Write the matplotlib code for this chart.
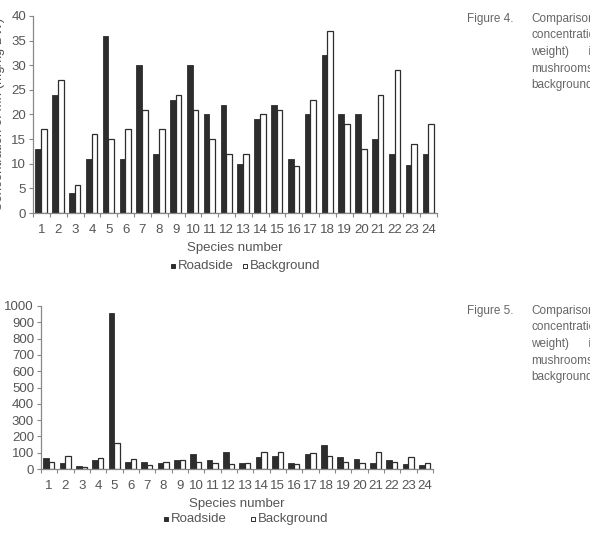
import matplotlib
matplotlib.use("Agg")
import matplotlib.pyplot as plt
import numpy as np
from matplotlib.lines import Line2D

species = list(range(1, 25))
species_labels = [str(s) for s in species]

# Figure 4 (Mn, mg/kg DW)
mn_roadside = [13, 24, 4, 11, 36, 11, 30, 12, 23, 30, 20, 22,
               10, 19, 22, 11, 20, 32, 20, 20, 15, 12, 9.7, 12]
mn_background = [17, 27, 5.6, 16, 15, 17, 21, 17, 24, 21, 15, 12,
                 12, 20, 21, 9.5, 23, 37, 18, 13, 24, 29, 14, 18]

# Figure 5
f5_roadside = [65, 39, 20, 53, 955, 43, 43, 39, 53, 90, 53, 102,
               35, 75, 81, 35, 94, 149, 75, 59, 39, 53, 29, 27]
f5_background = [41, 80, 12, 65, 157, 61, 22, 43, 53, 41, 35, 31,
                 39, 106, 106, 31, 98, 80, 43, 35, 106, 41, 71, 39]

legend_labels = ["Roadside", "Background"]

DARK = "#2d2d2d"
GRAY = "#555555"
SPINE = "#888888"
W, H = 590, 534

fig = plt.figure(figsize=(W / 100, H / 100), dpi=100)
plt.rcParams['font.family'] = ['Liberation Sans', 'DejaVu Sans']


def px_axes(x0, x1, y0, y1):
    return fig.add_axes([x0 / W, 1 - y0 / H, (x1 - x0) / W, (y0 - y1) / H])


def draw(ax, rd, bg, ymax, ystep):
    x = np.array(species, dtype=float)
    ax.bar(x - 0.19, rd, width=0.34, color=DARK, edgecolor=DARK, linewidth=0.6)
    ax.bar(x + 0.15, bg, width=0.33, color="white", edgecolor=DARK, linewidth=0.9)
    ax.set_xlim(0.5, 24.5)
    ax.set_ylim(0, ymax)
    ax.set_yticks(np.arange(0, ymax + 1, ystep))
    ax.set_xticks(x)
    ax.set_xticklabels(species_labels)
    ax.set_xticks(np.arange(0.5, 25, 1), minor=True)
    ax.tick_params(axis='x', which='major', length=0, pad=8, labelsize=9.5, labelcolor=GRAY)
    ax.tick_params(axis='x', which='minor', length=3, width=0.8, color=SPINE, direction='out')
    ax.tick_params(axis='y', length=3, width=0.8, color=SPINE, labelsize=9.5,
                   labelcolor=GRAY, pad=2)
    for s in ("top", "right"):
        ax.spines[s].set_visible(False)
    for s in ("left", "bottom"):
        ax.spines[s].set_color(SPINE)
        ax.spines[s].set_linewidth(0.9)
    ax.set_xlabel("Species number", fontsize=9.5, color=GRAY, labelpad=4)


ax1 = px_axes(33, 437, 213, 16)
draw(ax1, mn_roadside, mn_background, 40, 5)
ax1.text(-34 / 404, 0.5, "Concentration of Mn (mg/kg DW)", transform=ax1.transAxes,
         rotation=90, ha='center', va='center', fontsize=9.5, color=GRAY)

ax2 = px_axes(41, 433, 469, 306)
draw(ax2, f5_roadside, f5_background, 1000, 100)


def legend(y, x_r, x_b):
    yf = 1 - y / H
    for xm, fc in ((x_r, DARK), (x_b, "white")):
        fig.add_artist(Line2D([(xm + 1.5) / W], [yf], marker='s', markersize=3.2,
                              markerfacecolor=fc, markeredgecolor=DARK,
                              markeredgewidth=0.7, linestyle='none',
                              transform=fig.transFigure))
    fig.text((x_r + 7) / W, yf, legend_labels[0], fontsize=9.5, color=GRAY,
             ha='left', va='center')
    fig.text((x_b + 7) / W, yf, legend_labels[1], fontsize=9.5, color=GRAY,
             ha='left', va='center')


legend(266, 171, 243)
legend(519, 164, 251)

cap_lines = ["Comparison", "concentratio", "weight)      ir", "mushrooms", "background"]
for fig_lbl, y0 in (("Figure 4.", 19), ("Figure 5.", 311)):
    fig.text(467 / W, 1 - y0 / H, fig_lbl, fontsize=8.5, color="#666666",
             ha='left', va='center')
    for i, ln in enumerate(cap_lines):
        fig.text(531 / W, 1 - (y0 + i * 16.5) / H, ln, fontsize=8.5, color="#666666",
                 ha='left', va='center')

fig.savefig("out.png", dpi=100)
